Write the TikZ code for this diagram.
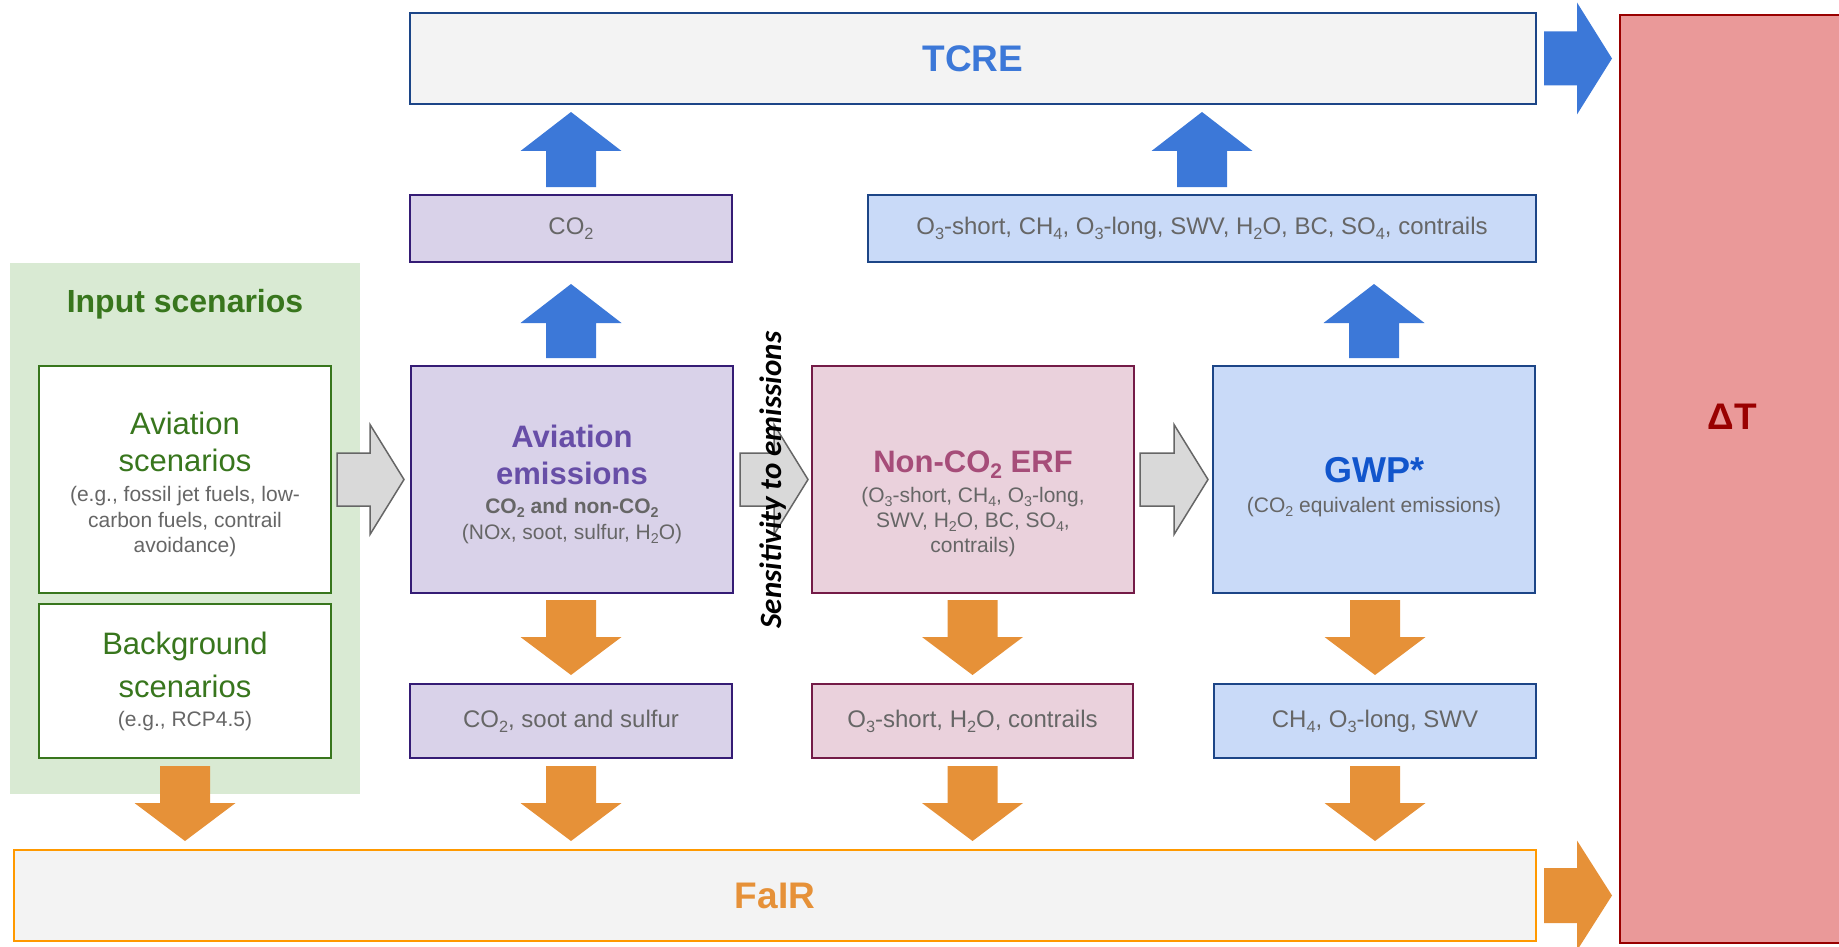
\documentclass[tikz,border=0pt]{standalone}
\usepackage{fontspec}
\setmainfont{Liberation Sans}
\newfontfamily\carlitofont{Carlito}
\usetikzlibrary{calc}
\definecolor{greenfill}{HTML}{D9EAD3}
\definecolor{greentext}{HTML}{38761D}
\definecolor{purplefill}{HTML}{D9D2E9}
\definecolor{purpledraw}{HTML}{351C75}
\definecolor{purpletext}{HTML}{674EA7}
\definecolor{pinkfill}{HTML}{EAD1DC}
\definecolor{pinkdraw}{HTML}{741B47}
\definecolor{pinktext}{HTML}{A64D79}
\definecolor{bluefill}{HTML}{C9DAF8}
\definecolor{bluedraw}{HTML}{1C4587}
\definecolor{gwptext}{HTML}{1155CC}
\definecolor{tcretext}{HTML}{3C78D8}
\definecolor{lightfill}{HTML}{F3F3F3}
\definecolor{fairdraw}{HTML}{FF9900}
\definecolor{fairtext}{HTML}{E69138}
\definecolor{dtfill}{HTML}{EA9999}
\definecolor{dtdraw}{HTML}{990000}
\definecolor{arrowblue}{HTML}{3C78D8}
\definecolor{arroworange}{HTML}{E69138}
\definecolor{grayfill}{HTML}{D9D9D9}
\definecolor{graydraw}{HTML}{666666}
\definecolor{txtgray}{HTML}{666666}
\newcommand\setfs[2]{\fontsize{#1pt}{#2pt}\selectfont}
\newcommand\sm{\color{txtgray}\setfs{21}{25}}
\makeatletter
\newcommand\subs[1]{\pgfmathsetmacro\subsize{0.68*\f@size}\raisebox{-0.2em}{\fontsize{\subsize pt}{\subsize pt}\selectfont #1}}
\makeatother
\newcommand\blockup[3]{\fill[#1] let \p1=#2, \p2=#3 in
  (\x1-25pt,\y1) -- (\x1+25pt,\y1) -- (\x1+25pt,\y2-39pt) -- (\x1+50.5pt,\y2-39pt)
  -- (\x1,\y2) -- (\x1-50.5pt,\y2-39pt) -- (\x1-25pt,\y2-39pt) -- cycle;}
\newcommand\blockdown[3]{\fill[#1] let \p1=#2, \p2=#3 in
  (\x1-25pt,\y1) -- (\x1+25pt,\y1) -- (\x1+25pt,\y2+38pt) -- (\x1+50.5pt,\y2+38pt)
  -- (\x1,\y2) -- (\x1-50.5pt,\y2+38pt) -- (\x1-25pt,\y2+38pt) -- cycle;}
\newcommand\blockright[6]{\path[#1] let \p1=#2, \p2=#3 in
  (\x1,\y1-#4) -- (\x2-#6,\y1-#4) -- (\x2-#6,\y1-#5) -- (\x2,\y1)
  -- (\x2-#6,\y1+#5) -- (\x2-#6,\y1+#4) -- (\x1,\y1+#4) -- cycle;}
\begin{document}
\begin{tikzpicture}[x=1pt,y=-1pt,
  box/.style={draw, line width=2pt, inner sep=0pt, outer sep=0pt, align=center, font=\setfs{21}{25}},
  purplebox/.style={box, fill=purplefill, draw=purpledraw},
  pinkbox/.style={box, fill=pinkfill, draw=pinkdraw},
  bluebox/.style={box, fill=bluefill, draw=bluedraw},
  greenbox/.style={box, fill=white, draw=greentext},
  smalltext/.style={text=txtgray, font=\setfs{24}{28}},
  bigtitle/.style={font=\bfseries\setfs{37}{44}}]
\useasboundingbox (0,0) rectangle (1839,947);

% background group and main boxes
\node[box, draw=none, fill=greenfill, minimum width=350pt, minimum height=531pt] (green) at (185,528.5) {};
\node[text=greentext, font=\bfseries\setfs{32}{38}] (inlabel) at (185,304) {Input scenarios};

\node[greenbox, minimum width=292pt, minimum height=227pt] (avscen) at (185,479.5)
 {\rule{0pt}{32pt}\color{greentext}\setfs{31}{25}Aviation\\[12pt]
  \color{greentext}\setfs{31}{25}scenarios\\[5pt]
  \sm (e.g., fossil jet fuels, low-\\[1pt]
  \sm carbon fuels, contrail\\
  \sm avoidance)};
\node[greenbox, minimum width=292pt, minimum height=154pt] (bgscen) at (185,681)
 {\color{greentext}\setfs{31}{25}Background\\[13pt]
  \color{greentext}\setfs{31}{25}scenarios\\[4pt]
  \sm (e.g., RCP4.5)};

\node[box, fill=lightfill, draw=bluedraw, line width=1.5pt, minimum width=1126pt, minimum height=91pt,
  text=tcretext, bigtitle] (tcre) at (973,58.5) {TCRE};
\node[box, fill=lightfill, draw=fairdraw, minimum width=1522pt, minimum height=91pt,
  text=fairtext, bigtitle] (fair) at (775,895.5) {FaIR};
\node[box, fill=dtfill, draw=dtdraw, minimum width=225pt, minimum height=928pt,
  text=dtdraw, bigtitle] (dT) at (1732.5,479) {\rule[-124pt]{0pt}{124pt}ΔT};

\node[purplebox, minimum width=322pt, minimum height=67pt, smalltext] (co2top) at (571,228.5) {CO\subs{2}};
\node[bluebox, minimum width=668pt, minimum height=67pt, smalltext] (o3top) at (1202,228.5)
 {O\subs{3}-short, CH\subs{4}, O\subs{3}-long, SWV, H\subs{2}O, BC, SO\subs{4}, contrails};

\node[purplebox, minimum width=322pt, minimum height=227pt] (avem) at (572,479.5)
 {\rule{0pt}{32pt}\color{purpletext}\bfseries\setfs{31}{25}Aviation\\[12pt]
  \color{purpletext}\bfseries\setfs{31}{25}emissions\\[4pt]
  \color{txtgray}\bfseries\setfs{21}{25}CO\subs{2} and non-CO\subs{2}\\[1pt]
  \sm (NOx, soot, sulfur, H\subs{2}O)};
\node[pinkbox, minimum width=322pt, minimum height=227pt] (nonco2) at (973,479.5)
 {\rule{0pt}{70pt}\color{pinktext}\bfseries\setfs{31}{25}Non-CO\subs{2} ERF\\[5pt]
  \sm (O\subs{3}-short, CH\subs{4}, O\subs{3}-long,\\
  \sm SWV, H\subs{2}O, BC, SO\subs{4},\\
  \sm contrails)};
\node[bluebox, minimum width=322pt, minimum height=227pt] (gwp) at (1374,479.5)
 {\rule{0pt}{40pt}\color{gwptext}\bfseries\setfs{36}{25}GWP*\\[5pt]
  \sm (CO\subs{2} equivalent emissions)};

\node[purplebox, minimum width=322pt, minimum height=74pt, smalltext] (co2b) at (571,721) {CO\subs{2}, soot and sulfur};
\node[pinkbox, minimum width=321pt, minimum height=74pt, smalltext] (o3b) at (972.5,721) {O\subs{3}-short, H\subs{2}O, contrails};
\node[bluebox, minimum width=322pt, minimum height=74pt, smalltext] (ch4b) at (1375,721) {CH\subs{4}, O\subs{3}-long, SWV};

% blue arrows (upward)
\blockup{arrowblue}{($(co2top.north)+(0,-8)$)}{($(tcre.south -| co2top.north)+(0,8)$)}
\blockup{arrowblue}{($(o3top.north)+(0,-8)$)}{($(tcre.south -| o3top.north)+(0,8)$)}
\blockup{arrowblue}{($(avem.north -| co2top.north)+(0,-8)$)}{($(co2top.south)+(0,22)$)}
\blockup{arrowblue}{($(gwp.north)+(0,-8)$)}{($(o3top.south -| gwp.north)+(0,22)$)}

% orange arrows (downward)
\blockdown{arroworange}{($(avem.south -| co2b.north)+(0,7)$)}{($(co2b.north)+(0,-9)$)}
\blockdown{arroworange}{($(nonco2.south -| o3b.north)+(0,7)$)}{($(o3b.north)+(0,-9)$)}
\blockdown{arroworange}{($(gwp.south -| ch4b.north)+(0,7)$)}{($(ch4b.north)+(0,-9)$)}
\blockdown{arroworange}{($(co2b.south)+(0,8)$)}{($(fair.north -| co2b.south)+(0,-9)$)}
\blockdown{arroworange}{($(o3b.south)+(0,8)$)}{($(fair.north -| o3b.south)+(0,-9)$)}
\blockdown{arroworange}{($(ch4b.south)+(0,8)$)}{($(fair.north -| ch4b.south)+(0,-9)$)}
\blockdown{arroworange}{($(bgscen.south)+(0,8)$)}{($(fair.north -| bgscen.south)+(0,-9)$)}

% arrows into Delta T
\blockright{fill=arrowblue}{($(tcre.east)+(8,0)$)}{($(dT.west |- tcre.east)+(-8,0)$)}{27pt}{56pt}{35pt}
\blockright{fill=arroworange}{($(fair.east)+(8,0)$)}{($(dT.west |- fair.east)+(-8,0)$)}{27.5pt}{55pt}{35pt}

% gray process arrows
\blockright{fill=grayfill, draw=graydraw, line width=1.5pt}{($(avscen.east)+(6,0)$)}{($(avem.west)+(-7,0)$)}{26.5pt}{55pt}{34pt}
\blockright{fill=grayfill, draw=graydraw, line width=1.5pt}{($(avem.east)+(7,0)$)}{($(nonco2.west)+(-4,0)$)}{26.5pt}{55pt}{34pt}
\blockright{fill=grayfill, draw=graydraw, line width=1.5pt}{($(nonco2.east)+(6,0)$)}{($(gwp.west)+(-5,0)$)}{26.5pt}{55pt}{34pt}

\node[rotate=90, font=\carlitofont\bfseries\itshape\setfs{31}{37}] (sens) at (773,480) {Sensitivity to emissions};
\end{tikzpicture}
\end{document}
